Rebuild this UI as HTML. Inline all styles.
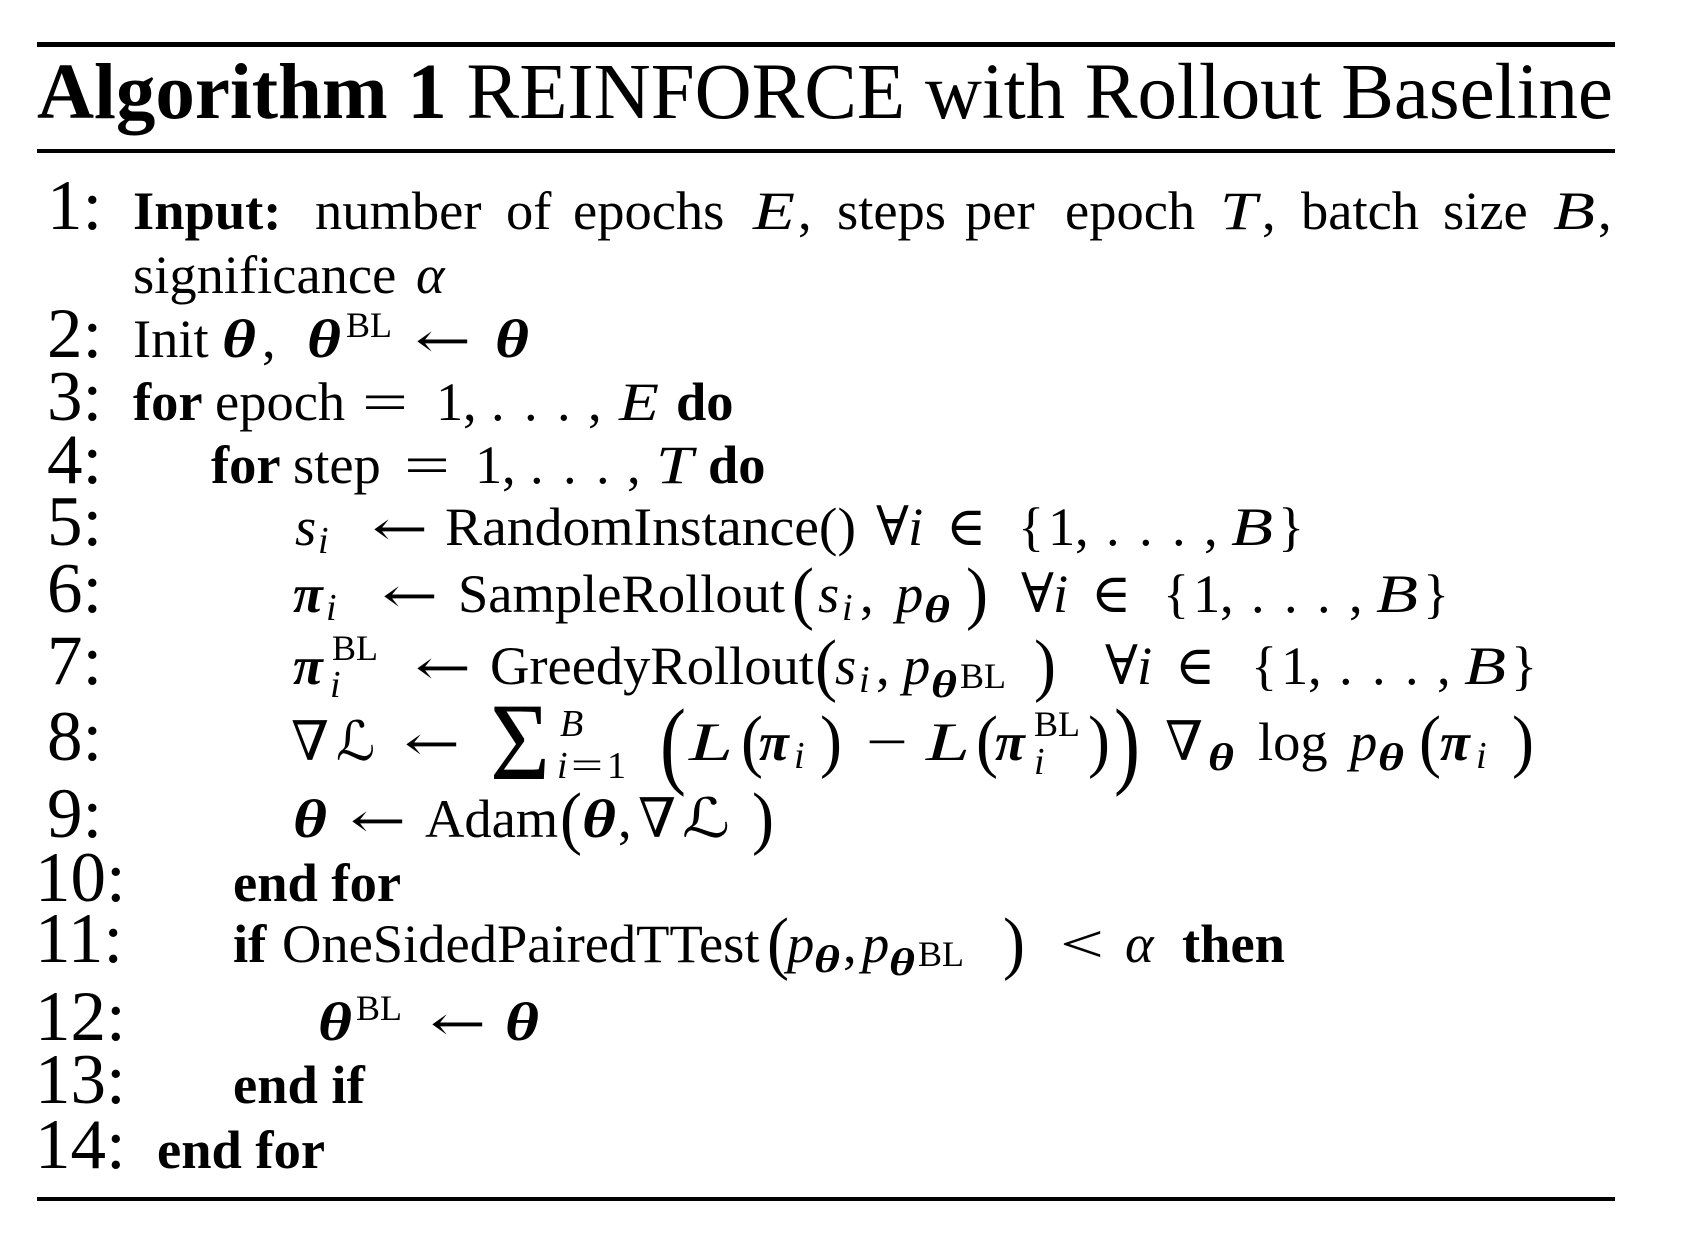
<!DOCTYPE html>
<html>
<head>
<meta charset="utf-8">
<style>
html,body{margin:0;padding:0;background:#fff;}
body{width:1688px;height:1248px;overflow:hidden;}
svg text{font-family:"Liberation Serif","DejaVu Serif",serif;fill:#000;}
.n{font-size:71px;}
.t{font-size:54.5px;}
.b{font-weight:bold;}
.i{font-style:italic;}
.bi{font-weight:bold;font-style:italic;}
.sub{font-size:38px;}
.sup{font-size:36px;}
.ss{font-size:28px;}
.d{font-family:"DejaVu Serif","DejaVu Sans",serif;}
.ar{font-family:"DejaVu Serif","DejaVu Sans",serif;font-size:48px;font-weight:normal;}
.p{font-size:70px;}
</style>
</head>
<body>
<svg width="1688" height="1248" viewBox="0 0 1688 1248" xmlns="http://www.w3.org/2000/svg">
<rect x="0" y="0" width="1688" height="1248" fill="#fff"/>
<!-- rules -->
<rect x="37" y="42" width="1578" height="5" fill="#000"/>
<rect x="37" y="149" width="1578" height="4" fill="#000"/>
<rect x="37" y="1197" width="1578" height="4" fill="#000"/>

<!-- title -->
<text x="37" y="118" font-size="79" textLength="1576" lengthAdjust="spacing"><tspan font-weight="bold">Algorithm 1</tspan> REINFORCE with Rollout Baseline</text>

<!-- line 1 -->
<text class="n" x="47" y="229">1:</text>
<text class="t b" x="133" y="229">Input:</text>
<text class="t" x="315" y="229">number</text>
<text class="t" x="506" y="229">of</text>
<text class="t" x="573" y="229">epochs</text>
<text class="t i" x="753" y="229" textLength="42" lengthAdjust="spacingAndGlyphs">E</text>
<text class="t" x="798" y="229">,</text>
<text class="t" x="837" y="229">steps</text>
<text class="t" x="965" y="229">per</text>
<text class="t" x="1065" y="229">epoch</text>
<text class="t i" x="1220" y="229" textLength="37" lengthAdjust="spacingAndGlyphs">T</text>
<text class="t" x="1262" y="229">,</text>
<text class="t" x="1301" y="229">batch</text>
<text class="t" x="1443" y="229">size</text>
<text class="t i" x="1553" y="229" textLength="42" lengthAdjust="spacingAndGlyphs">B</text>
<text class="t" x="1598" y="229">,</text>
<text class="t" x="133" y="293">significance</text>
<text class="t i" x="416" y="293">α</text>

<!-- line 2 -->
<text class="n" x="47" y="357">2:</text>
<text class="t" x="133" y="357">Init</text>
<text class="t bi" x="222" y="357" textLength="34" lengthAdjust="spacingAndGlyphs">θ</text>
<text class="t" x="262" y="357">,</text>
<text class="t bi" x="307" y="357" textLength="34" lengthAdjust="spacingAndGlyphs">θ</text>
<text class="sup" x="346" y="337">BL</text>
<text class="ar" x="415" y="357" textLength="56" lengthAdjust="spacingAndGlyphs">←</text>
<text class="t bi" x="495" y="357" textLength="34" lengthAdjust="spacingAndGlyphs">θ</text>

<!-- line 3 -->
<text class="n" x="47" y="420">3:</text>
<text class="t b" x="133" y="420">for</text>
<text class="t" x="215" y="420">epoch</text>
<text class="t" x="362" y="420" textLength="46" lengthAdjust="spacingAndGlyphs">=</text>
<text class="t" x="436" y="420">1</text>
<text class="t" x="463" y="420">,</text>
<text class="t" x="491" y="420">.</text>
<text class="t" x="524" y="420">.</text>
<text class="t" x="557" y="420">.</text>
<text class="t" x="588" y="420">,</text>
<text class="t i" x="619" y="420" textLength="40" lengthAdjust="spacingAndGlyphs">E</text>
<text class="t b" x="676" y="420">do</text>

<!-- line 4 -->
<text class="n" x="47" y="483">4:</text>
<text class="t b" x="211" y="483">for</text>
<text class="t" x="293" y="483">step</text>
<text class="t" x="404" y="483" textLength="46" lengthAdjust="spacingAndGlyphs">=</text>
<text class="t" x="475" y="483">1</text>
<text class="t" x="502" y="483">,</text>
<text class="t" x="530" y="483">.</text>
<text class="t" x="563" y="483">.</text>
<text class="t" x="596" y="483">.</text>
<text class="t" x="627" y="483">,</text>
<text class="t i" x="656" y="483" textLength="37" lengthAdjust="spacingAndGlyphs">T</text>
<text class="t b" x="708" y="483">do</text>

<!-- line 5 -->
<text class="n" x="47" y="545">5:</text>
<text class="t i" x="295" y="545">s</text>
<text class="sub i" x="318" y="553">i</text>
<text class="ar" x="372" y="545" textLength="56" lengthAdjust="spacingAndGlyphs">←</text>
<text class="t" x="445" y="545" textLength="411" lengthAdjust="spacingAndGlyphs">RandomInstance()</text>
<g transform="translate(876,545)">
<text class="t d" x="0" y="0" font-size="50">∀</text>
<text class="t i" x="32" y="0">i</text>
<text class="t d" x="70" y="0" font-size="50">∈</text>
</g>
<g transform="translate(1018,545)">
<text class="t" x="0" y="0">{</text>
<text class="t" x="30" y="0">1</text>
<text class="t" x="57" y="0">,</text>
<text class="t" x="88" y="0">.</text>
<text class="t" x="121" y="0">.</text>
<text class="t" x="154" y="0">.</text>
<text class="t" x="186" y="0">,</text>
<text class="t i" x="213" y="0" textLength="42" lengthAdjust="spacingAndGlyphs">B</text>
<text class="t" x="260" y="0">}</text>
</g>

<!-- line 6 -->
<text class="n" x="47" y="612">6:</text>
<text class="t bi" x="293" y="612">π</text>
<text class="sub i" x="326" y="620">i</text>
<text class="ar" x="382" y="612" textLength="56" lengthAdjust="spacingAndGlyphs">←</text>
<text class="t" x="458" y="612">SampleRollout</text>
<text class="p" x="792" y="616" textLength="22" lengthAdjust="spacingAndGlyphs">(</text>
<text class="t i" x="818" y="612">s</text>
<text class="sub i" x="842" y="620">i</text>
<text class="t" x="860" y="612">,</text>
<text class="t i" x="896" y="612">p</text>
<text class="sub bi" x="924" y="622" textLength="26" lengthAdjust="spacingAndGlyphs">θ</text>
<text class="p" x="966" y="616" textLength="22" lengthAdjust="spacingAndGlyphs">)</text>
<g transform="translate(1021,612)">
<text class="t d" x="0" y="0" font-size="50">∀</text>
<text class="t i" x="32" y="0">i</text>
<text class="t d" x="70" y="0" font-size="50">∈</text>
</g>
<g transform="translate(1163,612)">
<text class="t" x="0" y="0">{</text>
<text class="t" x="30" y="0">1</text>
<text class="t" x="57" y="0">,</text>
<text class="t" x="88" y="0">.</text>
<text class="t" x="121" y="0">.</text>
<text class="t" x="154" y="0">.</text>
<text class="t" x="186" y="0">,</text>
<text class="t i" x="213" y="0" textLength="42" lengthAdjust="spacingAndGlyphs">B</text>
<text class="t" x="260" y="0">}</text>
</g>

<!-- line 7 -->
<text class="n" x="47" y="684">7:</text>
<text class="t bi" x="293" y="684">π</text>
<text class="sup" x="332" y="660">BL</text>
<text class="sub i" x="330" y="697">i</text>
<text class="ar" x="415" y="684" textLength="56" lengthAdjust="spacingAndGlyphs">←</text>
<text class="t" x="490" y="684">GreedyRollout</text>
<text class="p" x="815" y="688" textLength="22" lengthAdjust="spacingAndGlyphs">(</text>
<text class="t i" x="835" y="684">s</text>
<text class="sub i" x="859" y="692">i</text>
<text class="t" x="876" y="684">,</text>
<text class="t i" x="903" y="684">p</text>
<text class="sub bi" x="931" y="697" textLength="26" lengthAdjust="spacingAndGlyphs">θ</text>
<text class="sup" x="960" y="688" font-size="41">BL</text>
<text class="p" x="1034" y="688" textLength="22" lengthAdjust="spacingAndGlyphs">)</text>
<g transform="translate(1105,684)">
<text class="t d" x="0" y="0" font-size="50">∀</text>
<text class="t i" x="32" y="0">i</text>
<text class="t d" x="70" y="0" font-size="50">∈</text>
</g>
<g transform="translate(1251,684)">
<text class="t" x="0" y="0">{</text>
<text class="t" x="30" y="0">1</text>
<text class="t" x="57" y="0">,</text>
<text class="t" x="88" y="0">.</text>
<text class="t" x="121" y="0">.</text>
<text class="t" x="154" y="0">.</text>
<text class="t" x="186" y="0">,</text>
<text class="t i" x="213" y="0" textLength="42" lengthAdjust="spacingAndGlyphs">B</text>
<text class="t" x="260" y="0">}</text>
</g>

<!-- line 8 -->
<text class="n" x="47" y="760">8:</text>
<text class="t d" x="291" y="760">∇</text>
<text class="t d i" x="336" y="760">ℒ</text>
<text class="ar" x="404" y="760" textLength="56" lengthAdjust="spacingAndGlyphs">←</text>
<text x="490" y="779" font-size="110" textLength="60" lengthAdjust="spacingAndGlyphs">Σ</text>
<text class="sub i" x="560" y="736">B</text>
<text class="sub i" x="557" y="778">i</text>
<text class="sub" x="571" y="778" textLength="32" lengthAdjust="spacingAndGlyphs">=</text>
<text class="sub" x="607" y="778">1</text>
<text x="660" y="776" font-size="98" textLength="26" lengthAdjust="spacingAndGlyphs">(</text>
<text class="t i" x="689" y="760" textLength="44" lengthAdjust="spacingAndGlyphs">L</text>
<text class="p" x="741" y="764" textLength="22" lengthAdjust="spacingAndGlyphs">(</text>
<text class="t bi" x="759" y="760">π</text>
<text class="sub i" x="794" y="768">i</text>
<text class="p" x="820" y="764" textLength="22" lengthAdjust="spacingAndGlyphs">)</text>
<text class="t" x="866" y="760" textLength="42" lengthAdjust="spacingAndGlyphs">−</text>
<text class="t i" x="926" y="760" textLength="44" lengthAdjust="spacingAndGlyphs">L</text>
<text class="p" x="976" y="764" textLength="22" lengthAdjust="spacingAndGlyphs">(</text>
<text class="t bi" x="995" y="760">π</text>
<text class="sup" x="1034" y="736">BL</text>
<text class="sub i" x="1034" y="774">i</text>
<text class="p" x="1088" y="764" textLength="22" lengthAdjust="spacingAndGlyphs">)</text>
<text x="1114" y="776" font-size="98" textLength="26" lengthAdjust="spacingAndGlyphs">)</text>
<text class="t d" x="1165" y="760">∇</text>
<text class="sub bi" x="1208" y="770" textLength="26" lengthAdjust="spacingAndGlyphs">θ</text>
<text class="t" x="1258" y="760">log</text>
<text class="t i" x="1350" y="760">p</text>
<text class="sub bi" x="1378" y="770" textLength="26" lengthAdjust="spacingAndGlyphs">θ</text>
<text class="p" x="1419" y="764" textLength="22" lengthAdjust="spacingAndGlyphs">(</text>
<text class="t bi" x="1440" y="760">π</text>
<text class="sub i" x="1476" y="768">i</text>
<text class="p" x="1512" y="764" textLength="22" lengthAdjust="spacingAndGlyphs">)</text>

<!-- line 9 -->
<text class="n" x="47" y="837">9:</text>
<text class="t bi" x="293" y="837" textLength="34" lengthAdjust="spacingAndGlyphs">θ</text>
<text class="ar" x="350" y="837" textLength="56" lengthAdjust="spacingAndGlyphs">←</text>
<text class="t" x="425" y="837">Adam</text>
<text class="p" x="560" y="841" textLength="22" lengthAdjust="spacingAndGlyphs">(</text>
<text class="t bi" x="582" y="837" textLength="34" lengthAdjust="spacingAndGlyphs">θ</text>
<text class="t" x="618" y="837">,</text>
<text class="t d" x="638" y="837">∇</text>
<text class="t d i" x="682" y="837" textLength="48" lengthAdjust="spacingAndGlyphs">ℒ</text>
<text class="p" x="752" y="841" textLength="22" lengthAdjust="spacingAndGlyphs">)</text>

<!-- line 10 -->
<text class="n" x="35" y="901">10:</text>
<text class="t b" x="233" y="901">end for</text>

<!-- line 11 -->
<text class="n" x="35" y="962">11:</text>
<text class="t b" x="233" y="962">if</text>
<text class="t" x="282" y="962">OneSidedPairedTTest</text>
<text class="p" x="767" y="966" textLength="22" lengthAdjust="spacingAndGlyphs">(</text>
<text class="t i" x="787" y="962">p</text>
<text class="sub bi" x="814" y="972" textLength="26" lengthAdjust="spacingAndGlyphs">θ</text>
<text class="t" x="843" y="962">,</text>
<text class="t i" x="862" y="962">p</text>
<text class="sub bi" x="889" y="975" textLength="26" lengthAdjust="spacingAndGlyphs">θ</text>
<text class="sup" x="918" y="966" font-size="42">BL</text>
<text class="p" x="1003" y="966" textLength="22" lengthAdjust="spacingAndGlyphs">)</text>
<text class="t" x="1060" y="962" textLength="44" lengthAdjust="spacingAndGlyphs">&lt;</text>
<text class="t i" x="1125" y="962">α</text>
<text class="t b" x="1182" y="962">then</text>

<!-- line 12 -->
<text class="n" x="35" y="1040">12:</text>
<text class="t bi" x="318" y="1040" textLength="34" lengthAdjust="spacingAndGlyphs">θ</text>
<text class="sup" x="356" y="1020">BL</text>
<text class="ar" x="430" y="1040" textLength="56" lengthAdjust="spacingAndGlyphs">←</text>
<text class="t bi" x="505" y="1040" textLength="34" lengthAdjust="spacingAndGlyphs">θ</text>

<!-- line 13 -->
<text class="n" x="35" y="1103">13:</text>
<text class="t b" x="233" y="1103">end if</text>

<!-- line 14 -->
<text class="n" x="35" y="1168">14:</text>
<text class="t b" x="157" y="1168">end for</text>
</svg>
</body>
</html>
